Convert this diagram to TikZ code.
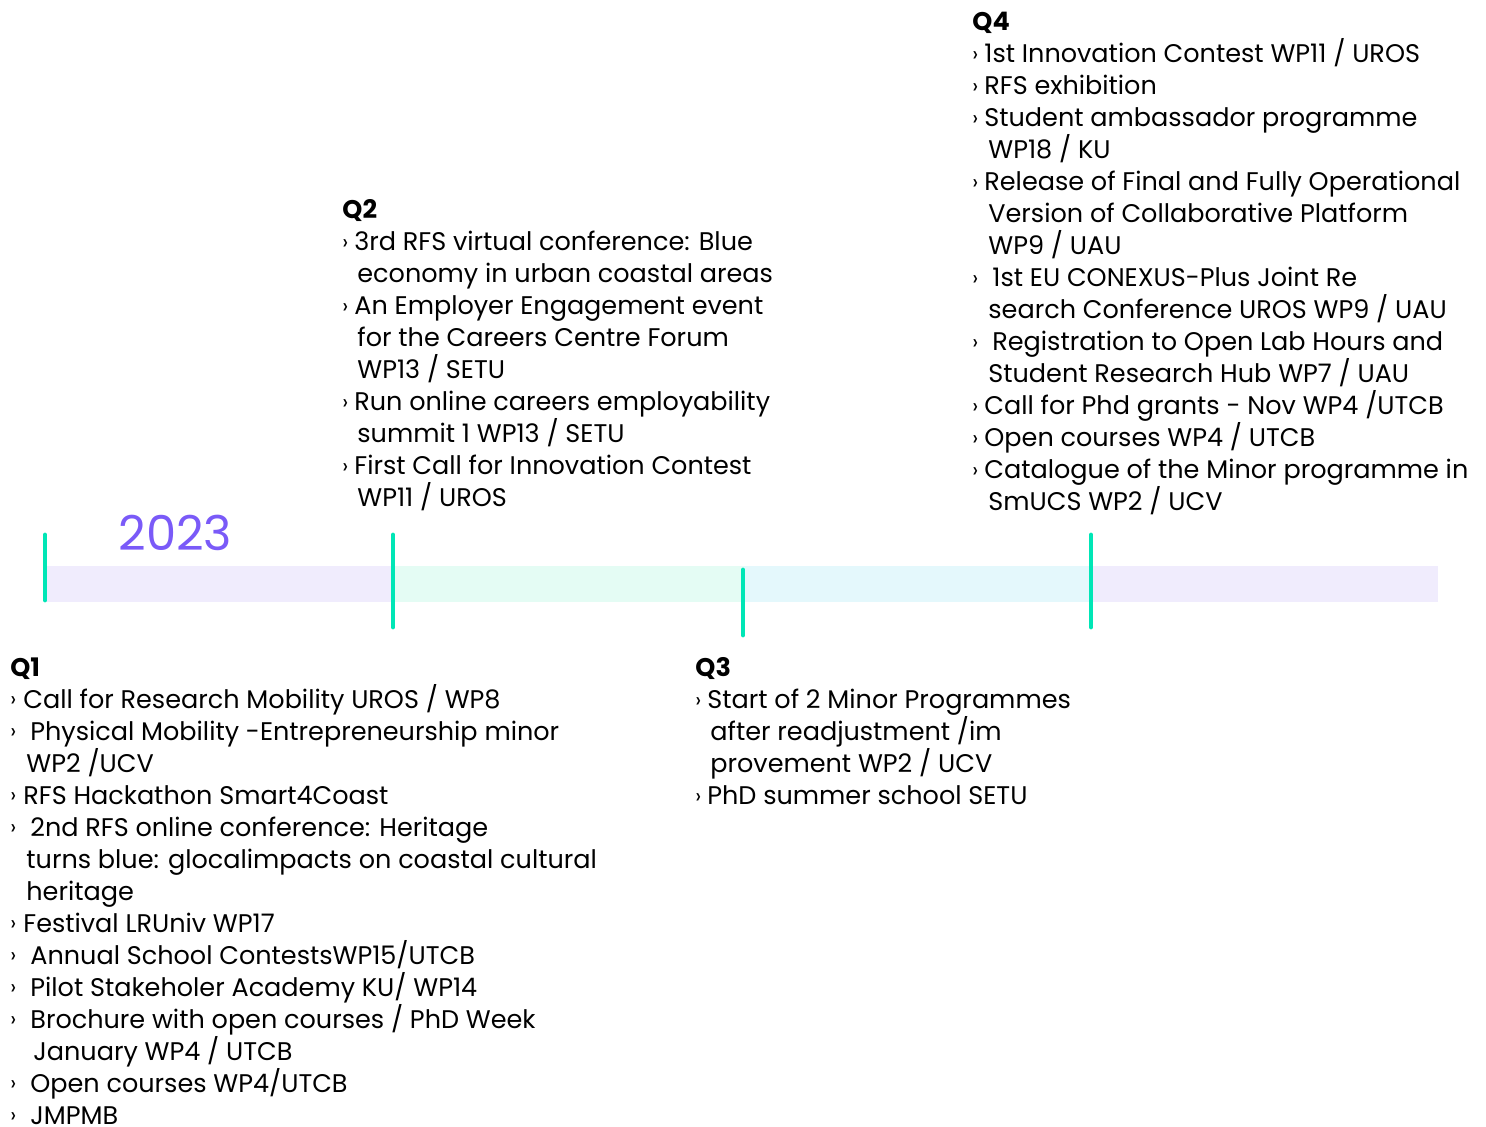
\documentclass[tikz,border=0pt]{standalone}
\usepackage{fontspec}
\setmainfont{Poppins}
\definecolor{barlav}{HTML}{F0ECFD}
\definecolor{barmint}{HTML}{E4FCF4}
\definecolor{barcyan}{HTML}{E4F8FC}
\definecolor{tickc}{HTML}{00E6B6}
\definecolor{yearc}{HTML}{7A5AF8}
\newcommand\bul[1]{\makebox[#1][l]{\raisebox{0.6pt}{\fontsize{10.5}{10}\selectfont ›}}}
\newcommand\ind[1]{\hspace*{#1}}
\tikzset{
  block/.style={anchor=north west, inner sep=0pt, align=left,
    font=\fontsize{12.75}{16}\selectfont, text=black},
  tickline/.style={draw=tickc, line width=2.4pt, line cap=round},
}
\begin{document}
\begin{tikzpicture}[x=0.5pt,y=-0.5pt]
\useasboundingbox (0,0) rectangle (1486,1126);
% bar
\fill[barlav] (45,566) rectangle (393,602);
\fill[barmint] (393,566) rectangle (743,602);
\fill[barcyan] (743,566) rectangle (1091,602);
\fill[barlav] (1091,566) rectangle (1438,602);
% ticks
\coordinate (t1a) at (45,535); \coordinate (t1b) at (45,600);
\coordinate (t2a) at (393,535); \coordinate (t2b) at (393,627);
\coordinate (t3a) at (743,570); \coordinate (t3b) at (743,635);
\coordinate (t4a) at (1091,535); \coordinate (t4b) at (1091,627);
\draw[tickline] (t1a) -- (t1b);
\draw[tickline] (t2a) -- (t2b);
\draw[tickline] (t3a) -- (t3b);
\draw[tickline] (t4a) -- (t4b);
% year
\node[anchor=west, inner sep=0pt, text=yearc, font=\fontsize{24}{24}\selectfont] (year) at (118,533) {2023};
% Q1
\node[block] (q1) at (10,657) {%
{\bfseries Q1}\\
\bul{6.5pt}Call for Research Mobility UROS / WP8\\
\bul{10pt}Physical Mobility -Entrepreneurship minor\\
\ind{8pt}WP2 /UCV\\
\bul{6.5pt}RFS Hackathon Smart4Coast\\
\bul{10pt}2nd RFS online conference: Heritage\\
\ind{8pt}turns blue: glocalimpacts on coastal cultural\\
\ind{8pt}heritage\\
\bul{6.5pt}Festival LRUniv WP17\\
\bul{10pt}Annual School ContestsWP15/UTCB\\
\bul{10pt}Pilot Stakeholer Academy KU/ WP14\\
\bul{10pt}Brochure with open courses / PhD Week\\
\ind{11.5pt}January WP4 / UTCB\\
\bul{10pt}Open courses WP4/UTCB\\
\bul{10pt}JMPMB};
% Q2
\node[block] (q2) at (342,199) {%
{\bfseries Q2}\\
\bul{6pt}3rd RFS virtual conference: Blue\\
\ind{7.5pt}economy in urban coastal areas\\
\bul{6pt}An Employer Engagement event\\
\ind{7.5pt}for the Careers Centre Forum\\
\ind{7.5pt}WP13 / SETU\\
\bul{6pt}Run online careers employability\\
\ind{7.5pt}summit 1 WP13 / SETU\\
\bul{6pt}First Call for Innovation Contest\\
\ind{7.5pt}WP11 / UROS};
% Q3
\node[block] (q3) at (695,657) {%
{\bfseries Q3}\\
\bul{6pt}Start of 2 Minor Programmes\\
\ind{7.5pt}after readjustment /im\\
\ind{7.5pt}provement WP2 / UCV\\
\bul{6pt}PhD summer school SETU};
% Q4
\node[block] (q4) at (972,12) {%
{\bfseries Q4}\\
\bul{6pt}1st Innovation Contest WP11 / UROS\\
\bul{6pt}RFS exhibition\\
\bul{6pt}Student ambassador programme\\
\ind{8pt}WP18 / KU\\
\bul{6pt}Release of Final and Fully Operational\\
\ind{8pt}Version of Collaborative Platform\\
\ind{8pt}WP9 / UAU\\
\bul{10pt}1st EU CONEXUS-Plus Joint Re\\
\ind{8pt}search Conference UROS WP9 / UAU\\
\bul{10pt}Registration to Open Lab Hours and\\
\ind{8pt}Student Research Hub WP7 / UAU\\
\bul{6pt}Call for Phd grants - Nov WP4 /UTCB\\
\bul{6pt}Open courses WP4 / UTCB\\
\bul{6pt}Catalogue of the Minor programme in\\
\ind{8pt}SmUCS WP2 / UCV};
\end{tikzpicture}
\end{document}
